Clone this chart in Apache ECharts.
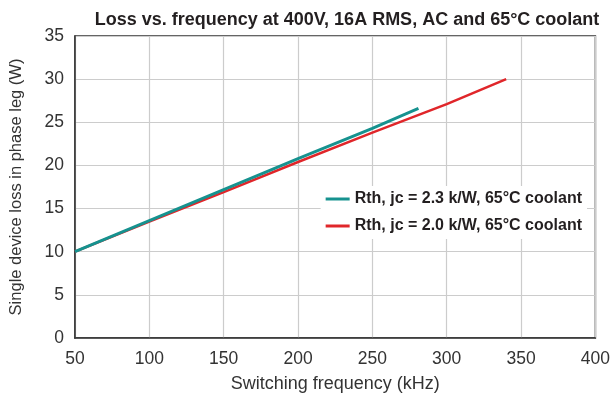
<!DOCTYPE html>
<html><head><meta charset="utf-8">
<script src="https://cdn.jsdelivr.net/npm/echarts@6/dist/echarts.min.js"></script>
<style>html,body{margin:0;padding:0;background:#fff}#c{width:613px;height:398px}</style>
</head><body><div id="c"></div>
<script>
const title = 'Loss vs. frequency at 400V, 16A RMS, AC and 65°C coolant';
const xName = 'Switching frequency (kHz)';
const yName = 'Single device loss in phase leg (W)';
const seriesNames = ['Rth, jc = 2.3 k/W, 65°C coolant', 'Rth, jc = 2.0 k/W, 65°C coolant'];
const tealFreq = [50, 100, 150, 200, 250, 281];
const tealLoss = [10, 13.6, 17.2, 20.8, 24.3, 26.6];
const redFreq = [50, 100, 150, 200, 250, 300, 340];
const redLoss = [10, 13.5, 16.9, 20.4, 23.8, 27.1, 30];

const chart = echarts.init(document.getElementById('c'));
const font = 'Liberation Sans, Arial, sans-serif';
chart.setOption({
  animation: false,
  title: { text: title, left: 342, top: 6, textAlign: 'center',
    textStyle: { fontFamily: font, fontSize: 18, fontWeight: 'bold', color: '#231f20' } },
  grid: { left: 75, right: 17, top: 36, bottom: 56, show: true, borderColor: '#333', borderWidth: 1.5 },
  legend: { orient: 'vertical', right: 26, top: 186, itemGap: 11, itemWidth: 24, itemHeight: 3,
    icon: 'rect', textStyle: { fontFamily: font, fontSize: 16, fontWeight: 'bold', color: '#231f20' },
    backgroundColor: '#fff', padding: [5, 5, 5, 5], data: seriesNames },
  xAxis: { type: 'value', min: 50, max: 400, interval: 50, name: xName, nameLocation: 'middle', nameGap: 37,
    nameTextStyle: { fontFamily: font, fontSize: 18, color: '#333' },
    axisLine: { show: true, lineStyle: { color: '#333', width: 1.5 } }, axisTick: { show: false },
    axisLabel: { fontFamily: font, fontSize: 17.5, color: '#333', margin: 12 },
    splitLine: { show: true, lineStyle: { color: '#cccccc', width: 1.2 } } },
  yAxis: { type: 'value', min: 0, max: 35, interval: 5, name: yName, nameLocation: 'middle', nameGap: 50,
    nameTextStyle: { fontFamily: font, fontSize: 16.5, color: '#333' },
    axisLine: { show: true, lineStyle: { color: '#333', width: 1.5 } }, axisTick: { show: false },
    axisLabel: { fontFamily: font, fontSize: 17.5, color: '#333', margin: 11 },
    splitLine: { show: true, lineStyle: { color: '#cccccc', width: 1.2 } } },
  series: [
    { name: seriesNames[1], type: 'line', showSymbol: false, symbol: 'none', color: '#e0262a',
      lineStyle: { width: 2.5, color: '#e0262a' }, data: redFreq.map((f, i) => [f, redLoss[i]]) },
    { name: seriesNames[0], type: 'line', showSymbol: false, symbol: 'none', color: '#16928f',
      lineStyle: { width: 3, color: '#16928f' }, data: tealFreq.map((f, i) => [f, tealLoss[i]]) }
  ]
});
</script></body></html>
